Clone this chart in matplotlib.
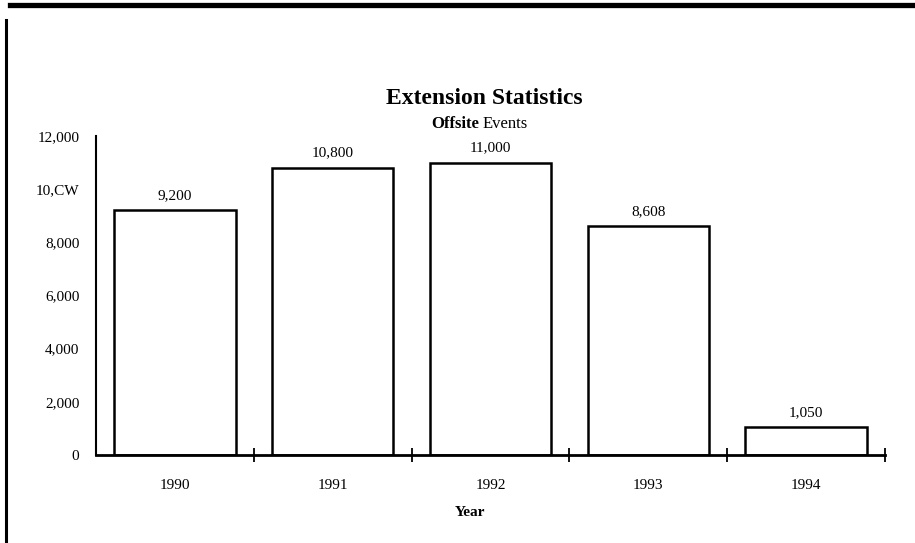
# Extension Statistics - offsite events bar chart (scanned report look)
import matplotlib.pyplot as plt
from matplotlib.lines import Line2D

plt.rcParams['font.family'] = ['Liberation Serif', 'DejaVu Serif']

# Data
years = ['1990', '1991', '1992', '1993', '1994']
events = [9200, 10800, 11000, 8608, 1050]
bar_labels = ['9,200', '10,800', '11,000', '8,608', '1,050']
y_ticks = [0, 2000, 4000, 6000, 8000, 10000, 12000]
y_tick_labels = ['0', '2,000', '4,000', '6,000', '8,000', '10,CW', '12,000']

fig = plt.figure(figsize=(9.15, 5.43), dpi=100)
ax = fig.add_axes([96 / 915, 1 - 455 / 543, 789 / 915, 319 / 543])

x = range(len(years))
bars = ax.bar(x, events, width=0.77, color='white', edgecolor='black', linewidth=1.8)

# value labels above each bar
for b, lab in zip(bars, bar_labels):
    ax.annotate(lab, (b.get_x() + b.get_width() / 2, b.get_height()),
                xytext=(0, 6), textcoords='offset points',
                ha='center', va='bottom', fontsize=11)

ax.set_xlim(-0.5, len(years) - 0.5)
ax.set_ylim(0, 12000)

# y axis: labels only, no tick marks
ax.set_yticks(y_ticks, y_tick_labels)
ax.tick_params(axis='y', length=0, pad=12, labelsize=11)

# x axis: category labels centred, tick marks between categories
ax.set_xticks(list(x), years)
ax.tick_params(axis='x', which='major', length=0, pad=17, labelsize=11)
ax.set_xticks([i + 0.5 for i in x], minor=True)
ax.tick_params(axis='x', which='minor', direction='inout', length=10, width=1.3)

for side in ['top', 'right']:
    ax.spines[side].set_visible(False)
ax.spines['left'].set_linewidth(1.5)
ax.spines['bottom'].set_linewidth(2.0)

# titles
fig.text(484 / 915, 1 - 98 / 543, 'Extension Statistics', ha='center', va='center',
         fontsize=17, fontweight='bold')
fig.text(479 / 915, 1 - 124 / 543, 'Offsite', ha='right', va='center',
         fontsize=12, fontweight='bold')
fig.text(483 / 915, 1 - 124 / 543, 'Events', ha='left', va='center', fontsize=12)
fig.text(470 / 915, 1 - 513 / 543, 'Year', ha='center', va='center',
         fontsize=11, fontweight='bold')

# page rules from the scanned document
fig.add_artist(Line2D([10 / 915, 1], [1 - 4.5 / 543, 1 - 4.5 / 543],
                      color='black', linewidth=3.8))
fig.add_artist(Line2D([5.5 / 915, 5.5 / 915], [0, 1 - 20 / 543],
                      color='black', linewidth=2.2))

fig.savefig('out.png', dpi=100)
